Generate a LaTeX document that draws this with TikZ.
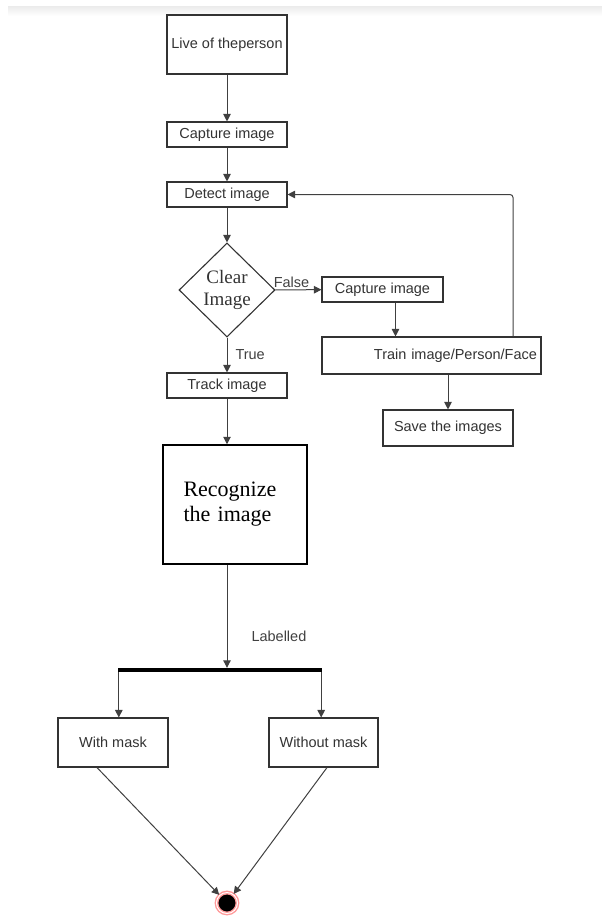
\documentclass[tikz,border=0pt]{standalone}
\usepackage{xcolor}
\usepackage{fontspec}
\setmainfont{Liberation Sans}
\newfontfamily\timesfont{Liberation Serif}
\usepackage{tikz}
\usetikzlibrary{shapes.geometric,arrows.meta}

\begin{document}
\begin{tikzpicture}[x=1pt, y=-1pt,
	box/.style={draw=black!80, fill=white, line width=1.1pt, inner sep=0pt, text=black!80, font=\fontsize{14.5}{17}\selectfont},
	lbl/.style={text=black!75, inner sep=2pt, font=\fontsize{14.5}{17}\selectfont},
	arr/.style={draw=black!75, line width=1pt, -{Triangle[length=7.5pt,width=7.5pt]}}]
				\useasboundingbox (0,0) rectangle (602,924);
				\shade[top color=black!8, bottom color=white] (8,6) rectangle (602,16);
				\node[box, minimum width=120, minimum height=59] (0) at (227,44.5) {Live of theperson};
				\node[box, minimum width=120, minimum height=25] (1) at (227,134.5) {Capture image};
				\node[box, minimum width=120, minimum height=25] (2) at (227,194.5) {Detect image};
				\node[box, diamond, minimum width=96, minimum height=94, align=center, font=\timesfont\fontsize{19}{22}\selectfont] (3) at (227,290) {Clear\\Image};
				\node[box, minimum width=121, minimum height=25] (4) at (382.5,289.5) {Capture image};
				\node[box, minimum width=219, minimum height=37, text width=211, align=right] (5) at (431.5,355.5) {Train image/Person/Face};
				\node[box, minimum width=130, minimum height=36] (6) at (448,428) {Save the images};
				\node[box, minimum width=120, minimum height=25] (7) at (227,385.5) {Track image};
				\node[box, draw=black, text=black, line width=1.5pt, minimum width=144, minimum height=119, text width=103, align=left, font=\timesfont\fontsize{22}{25}\selectfont] (8) at (235,504.5) {Recognize\\the image};
				\node[fill=black, inner sep=0pt, minimum width=204, minimum height=4] (9) at (220,670) {};
				\node[box, minimum width=110, minimum height=49] (10) at (113,742.5) {With mask};
				\node[box, minimum width=109, minimum height=49] (11) at (323.5,742.5) {Without mask};
				\node[circle, fill=black, draw=red!40, double=white, double distance=1pt, line width=1.4pt, minimum size=21, inner sep=0pt] (12) at (227,903) {};
				\draw[arr] (0) to (1);
				\draw[arr] (1) to (2);
				\draw[arr] (2) to (3);
				\draw[arr] (3) to node[above, pos=0.35, lbl] {False} (4);
				\draw[arr] ([xshift=13]4.south) to ([xshift=13]4.south |- 5.north);
				\draw[arr, rounded corners=3] ([xshift=81.5]5.north) |- (2.east);
				\draw[arr] (6.north |- 5.south) to (6);
				\draw[arr] (3) to node[right, lbl, xshift=6] {True} (7);
				\draw[arr] (7) to (7 |- 8.north);
				\draw[arr] (8.south -| 0) to node[pos=0.69, right, lbl, xshift=22] {Labelled} (9.north -| 0);
				\draw[arr, line width=1.3pt] ([xshift=1]9.south west) to ([xshift=1]9.south west |- 10.north);
				\draw[arr, line width=1.3pt] ([xshift=-1]9.south east) to ([xshift=-1]9.south east |- 11.north);
				\draw[arr] ([xshift=-16]10.south) to (12);
				\draw[arr] ([xshift=3.5]11.south) to (12);
			\end{tikzpicture}
\end{document}
